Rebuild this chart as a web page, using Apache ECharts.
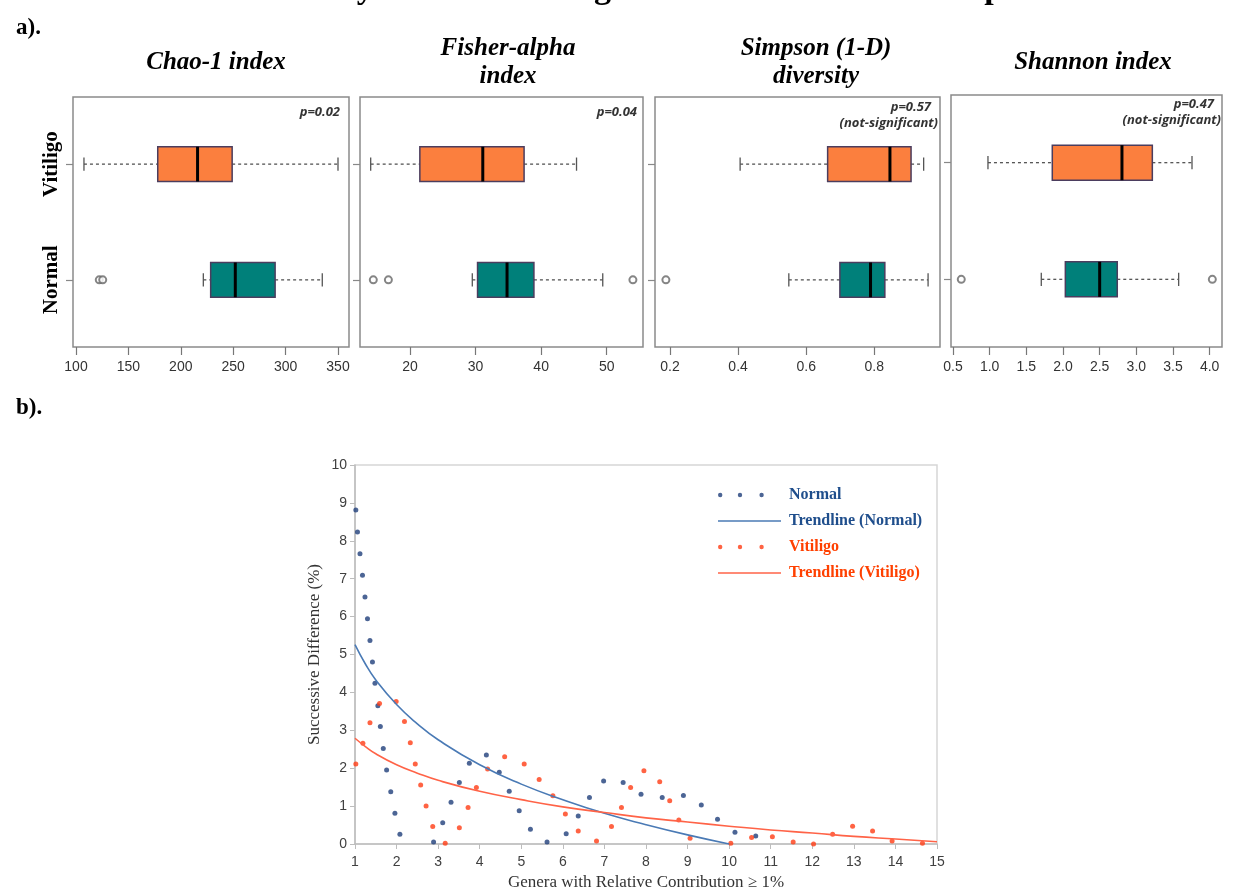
<!DOCTYPE html>
<html>
<head>
<meta charset="utf-8">
<script src="https://cdn.jsdelivr.net/npm/echarts@6/dist/echarts.min.js"></script>
<style>
  html, body { margin: 0; padding: 0; background: #fff; }
  #chart { width: 1233px; height: 896px; }
</style>
</head>
<body>
<div id="chart"></div>
<script>
// ---- a) boxplots: [lower whisker, Q1, median, Q3, upper whisker], rows = Normal, Vitiligo
const groups = ['Normal', 'Vitiligo'];
const chaoBox = [[221.5, 228.5, 252, 290, 335], [107.6, 178, 216, 249, 350]];
const chaoOut = [[122.2, 1], [125.5, 1]];
const fisherBox = [[29.5, 30.3, 34.8, 38.9, 49.4], [14.0, 21.5, 31.1, 37.4, 45.4]];
const fisherOut = [[14.4, 1], [16.7, 1], [54.0, 1]];
const simpsonBox = [[0.549, 0.699, 0.789, 0.831, 0.958], [0.406, 0.663, 0.846, 0.908, 0.945]];
const simpsonOut = [[0.188, 1]];
const shannonBox = [[1.704, 2.032, 2.50, 2.74, 3.577], [0.977, 1.854, 2.804, 3.218, 3.759]];
const shannonOut = [[0.613, 1], [4.036, 1]];

const chaoTicks = [100, 150, 200, 250, 300, 350];
const fisherTicks = [20, 30, 40, 50];
const simpsonTicks = [0.2, 0.4, 0.6, 0.8];
const shannonTicks = [0.5, 1.0, 1.5, 2.0, 2.5, 3.0, 3.5, 4.0];

// ---- b) successive differences
const normalX = [1.02, 1.06, 1.12, 1.18, 1.24, 1.30, 1.36, 1.42, 1.48, 1.55, 1.61, 1.68, 1.76, 1.86, 1.96, 2.08,
  2.89, 3.11, 3.31, 3.51, 3.75, 4.16, 4.47, 4.71, 4.95, 5.22, 5.62, 6.08, 6.37, 6.64, 6.98, 7.45, 7.88, 8.39,
  8.90, 9.33, 9.72, 10.14, 10.64];
const normalY = [8.81, 8.23, 7.66, 7.09, 6.52, 5.94, 5.37, 4.80, 4.24, 3.65, 3.10, 2.52, 1.95, 1.38, 0.81, 0.26,
  0.05, 0.56, 1.10, 1.62, 2.13, 2.35, 1.89, 1.39, 0.88, 0.39, 0.05, 0.27, 0.74, 1.23, 1.66, 1.62, 1.31, 1.23,
  1.28, 1.03, 0.65, 0.31, 0.21];
const vitiligoX = [1.02, 1.19, 1.36, 1.59, 1.99, 2.19, 2.33, 2.45, 2.58, 2.71, 2.87, 3.17, 3.51, 3.72, 3.92, 4.19,
  4.60, 5.07, 5.43, 5.76, 6.06, 6.37, 6.81, 7.17, 7.41, 7.63, 7.95, 8.33, 8.57, 8.79, 9.06, 10.04, 10.54, 11.04,
  11.54, 12.03, 12.49, 12.97, 13.45, 13.92, 14.65];
const vitiligoY = [2.11, 2.66, 3.20, 3.71, 3.76, 3.23, 2.67, 2.11, 1.56, 1.00, 0.46, 0.02, 0.43, 0.96, 1.49, 1.98,
  2.30, 2.11, 1.70, 1.27, 0.79, 0.34, 0.08, 0.46, 0.96, 1.49, 1.93, 1.64, 1.14, 0.63, 0.15, 0.02, 0.17, 0.19,
  0.05, 0.00, 0.26, 0.47, 0.34, 0.08, 0.02];
// trendlines
const trendNormalX = [1, 1.25, 1.5, 2, 2.5, 3, 4, 5, 6, 7, 8, 9, 10];
const trendNormalY = [5.26, 4.75, 4.33, 3.68, 3.17, 2.75, 2.09, 1.58, 1.17, 0.81, 0.51, 0.24, 0.0];
const trendVitX = [1, 1.25, 1.5, 2, 2.5, 3, 4, 5, 6, 7, 8, 9, 10, 11, 12, 13, 14, 15];
const trendVitY = [2.79, 2.57, 2.38, 2.09, 1.87, 1.68, 1.39, 1.17, 0.98, 0.83, 0.69, 0.58, 0.47, 0.37, 0.29, 0.20, 0.13, 0.06];

const zip = (xs, ys) => xs.map((x, i) => [x, ys[i]]);
const boxRows = arr => arr.map((d, i) => [i + 1].concat(d));

const serif = 'Liberation Serif';
const sans = 'Liberation Sans';

function renderBox(params, api) {
  const row = api.value(0);
  const xs = [1, 2, 3, 4, 5].map(i => api.coord([api.value(i), row])[0]);
  const cy = api.coord([api.value(1), row])[1];
  const h = api.size([0, 0.3])[1];
  const cap = h * 0.19;
  const fill = row === 1 ? '#00807a' : '#fb7f3e';
  const dash = { stroke: '#555', lineWidth: 1.3, lineDash: [3, 3] };
  const solid = { stroke: '#555', lineWidth: 1.3 };
  return {
    type: 'group',
    children: [
      { type: 'line', shape: { x1: xs[0], y1: cy, x2: xs[1], y2: cy }, style: dash },
      { type: 'line', shape: { x1: xs[3], y1: cy, x2: xs[4], y2: cy }, style: dash },
      { type: 'line', shape: { x1: xs[0], y1: cy - cap, x2: xs[0], y2: cy + cap }, style: solid },
      { type: 'line', shape: { x1: xs[4], y1: cy - cap, x2: xs[4], y2: cy + cap }, style: solid },
      { type: 'rect', shape: { x: xs[1], y: cy - h / 2, width: xs[3] - xs[1], height: h },
        style: { fill: fill, stroke: '#4b3d5e', lineWidth: 1.5 } },
      { type: 'line', shape: { x1: xs[2], y1: cy - h / 2, x2: xs[2], y2: cy + h / 2 },
        style: { stroke: '#000', lineWidth: 3 } }
    ]
  };
}

// panel frames in pixels and axis ranges
const panels = [
  { left: 73, right: 349, top: 97, min: 97.14, max: 360.5, ticks: chaoTicks, box: chaoBox, out: chaoOut },
  { left: 360, right: 643, top: 97, min: 12.37, max: 55.54, ticks: fisherTicks, box: fisherBox, out: fisherOut },
  { left: 655, right: 940, top: 97, min: 0.156, max: 0.993, ticks: simpsonTicks, box: simpsonBox, out: simpsonOut },
  { left: 951, right: 1222, top: 95, min: 0.473, max: 4.168, ticks: shannonTicks, box: shannonBox, out: shannonOut }
];

const grid = [], xAxis = [], yAxis = [], series = [];
panels.forEach((p, i) => {
  grid.push({ left: p.left, width: p.right - p.left, top: p.top, height: 347 - p.top,
    show: true, borderColor: '#8a8a8a', borderWidth: 1.5 });
  xAxis.push({
    type: 'value', gridIndex: i, min: p.min, max: p.max,
    axisLine: { show: false },
    splitLine: { show: false },
    axisTick: { show: true, length: 8, customValues: p.ticks, lineStyle: { color: '#777', width: 1.2 } },
    axisLabel: { customValues: p.ticks, margin: 13, fontFamily: sans, fontSize: 14, color: '#333',
      formatter: v => (i === 3 ? v.toFixed(1) : String(v)) }
  });
  yAxis.push({
    type: 'value', gridIndex: i, min: 0.42, max: 2.58,
    axisLine: { show: false },
    splitLine: { show: false },
    axisTick: { show: true, length: 7, customValues: [1, 2], lineStyle: { color: '#888', width: 1.2 } },
    axisLabel: {
      show: i === 0, customValues: [1, 2], rotate: 90, margin: 11,
      fontFamily: serif, fontWeight: 'bold', fontSize: 21, color: '#000',
      formatter: v => groups[Math.round(v) - 1]
    }
  });
  series.push({
    type: 'custom', xAxisIndex: i, yAxisIndex: i, renderItem: renderBox,
    encode: { x: [1, 2, 3, 4, 5], y: 0 }, data: boxRows(p.box), silent: true
  });
  series.push({
    type: 'scatter', xAxisIndex: i, yAxisIndex: i, data: p.out, symbol: 'emptyCircle', symbolSize: 7,
    itemStyle: { color: '#666', borderColor: '#666', borderWidth: 1.3 }, silent: true
  });
});

// b) chart
grid.push({ left: 355, top: 465, right: 296, bottom: 52, show: true, borderColor: '#d6d6d6', borderWidth: 1.5 });
xAxis.push({
  type: 'value', gridIndex: 4, min: 1, max: 15, interval: 1,
  name: 'Genera with Relative Contribution \u2265 1%', nameLocation: 'middle', nameGap: 30,
  nameTextStyle: { fontFamily: serif, fontSize: 17, color: '#333' },
  axisLine: { lineStyle: { color: '#bdbdbd', width: 1.5 } },
  axisTick: { show: true, length: 5, lineStyle: { color: '#bdbdbd' } },
  splitLine: { show: false },
  axisLabel: { margin: 11, fontFamily: sans, fontSize: 14, color: '#404040' }
});
yAxis.push({
  type: 'value', gridIndex: 4, min: 0, max: 10, interval: 1,
  name: 'Successive Difference (%)', nameLocation: 'middle', nameGap: 32,
  nameTextStyle: { fontFamily: serif, fontSize: 17, color: '#333' },
  axisLine: { show: true, lineStyle: { color: '#bdbdbd', width: 1.5 } },
  axisTick: { show: true, length: 5, lineStyle: { color: '#bdbdbd' } },
  splitLine: { show: false },
  axisLabel: { margin: 8, fontFamily: sans, fontSize: 14, color: '#404040' }
});
series.push(
  { name: 'Normal', type: 'scatter', xAxisIndex: 4, yAxisIndex: 4, data: zip(normalX, normalY),
    symbolSize: 5, itemStyle: { color: '#1f3f7a' } },
  { name: 'Trendline (Normal)', type: 'line', xAxisIndex: 4, yAxisIndex: 4, data: zip(trendNormalX, trendNormalY),
    smooth: true, showSymbol: false, itemStyle: { color: '#4a7ab5' }, lineStyle: { color: '#4a7ab5', width: 1.6 } },
  { name: 'Vitiligo', type: 'scatter', xAxisIndex: 4, yAxisIndex: 4, data: zip(vitiligoX, vitiligoY),
    symbolSize: 5, itemStyle: { color: '#ff3c14' } },
  { name: 'Trendline (Vitiligo)', type: 'line', xAxisIndex: 4, yAxisIndex: 4, data: zip(trendVitX, trendVitY),
    smooth: true, showSymbol: false, itemStyle: { color: '#ff6347' }, lineStyle: { color: '#ff6347', width: 1.6 } }
);

const dotsIcon = 'path://M0,2.2a2.2,2.2 0 1,0 4.4,0a2.2,2.2 0 1,0 -4.4,0' +
  'M19.8,2.2a2.2,2.2 0 1,0 4.4,0a2.2,2.2 0 1,0 -4.4,0' +
  'M41.4,2.2a2.2,2.2 0 1,0 4.4,0a2.2,2.2 0 1,0 -4.4,0M63,2.2L63,2.2';
const lineIcon = 'path://M0,0H63V1.6H0Z';
const blueText = '#1f4e8c', redText = '#ff4000';

const titleFont = { fontFamily: serif, fontStyle: 'italic', fontWeight: 'bold', fontSize: 25, lineHeight: 28, color: '#000' };
const pFont = { fontFamily: 'Open Sans', fontStyle: 'italic', fontWeight: 'bold', fontSize: 13, fill: '#333',
  align: 'right', verticalAlign: 'middle' };
const option = {
  animation: false,
  backgroundColor: '#fff',
  title: [
    { text: 'a).', left: 11, top: 12, textStyle: { fontFamily: serif, fontWeight: 'bold', fontSize: 23, color: '#000' } },
    { text: 'b).', left: 11, top: 392, textStyle: { fontFamily: serif, fontWeight: 'bold', fontSize: 23, color: '#000' } },
    { text: 'Chao-1 index', left: 211, top: 44, textAlign: 'center', textStyle: titleFont },
    { text: 'Fisher-alpha\nindex', left: 503, top: 30, textAlign: 'center', textStyle: titleFont },
    { text: 'Simpson (1-D)\ndiversity', left: 811, top: 30, textAlign: 'center', textStyle: titleFont },
    { text: 'Shannon index', left: 1088, top: 44, textAlign: 'center', textStyle: titleFont }
  ],
  legend: {
    orient: 'vertical', left: 713, top: 482, itemWidth: 63, itemHeight: 12, itemGap: 10,
    symbolKeepAspect: true, selectedMode: false,
    textStyle: { fontFamily: serif, fontWeight: 'bold', fontSize: 16, padding: [0, 0, 0, 3] },
    data: [
      { name: 'Normal', icon: dotsIcon, textStyle: { color: blueText } },
      { name: 'Trendline (Normal)', icon: lineIcon, textStyle: { color: blueText } },
      { name: 'Vitiligo', icon: dotsIcon, textStyle: { color: redText } },
      { name: 'Trendline (Vitiligo)', icon: lineIcon, textStyle: { color: redText } }
    ]
  },
  graphic: [
    // page title, almost entirely cropped off the top edge in the source figure
    { type: 'text', x: 629, y: -11, style: { text: '\u03b1-diversity indices in vitiligo and normal control samples',
      fontFamily: serif, fontWeight: 'bold', fontSize: 34, fill: '#000', align: 'center', verticalAlign: 'middle' } },
    { type: 'text', x: 340, y: 112, style: Object.assign({ text: 'p=0.02' }, pFont) },
    { type: 'text', x: 637, y: 112, style: Object.assign({ text: 'p=0.04' }, pFont) },
    { type: 'text', x: 931, y: 107, style: Object.assign({ text: 'p=0.57' }, pFont) },
    { type: 'text', x: 938, y: 123, style: Object.assign({ text: '(not-significant)' }, pFont) },
    { type: 'text', x: 1214, y: 104, style: Object.assign({ text: 'p=0.47' }, pFont) },
    { type: 'text', x: 1221, y: 120, style: Object.assign({ text: '(not-significant)' }, pFont) }
  ],
  grid: grid,
  xAxis: xAxis,
  yAxis: yAxis,
  series: series
};

const myChart = echarts.init(document.getElementById('chart'));
myChart.setOption(option);
</script>
</body>
</html>
